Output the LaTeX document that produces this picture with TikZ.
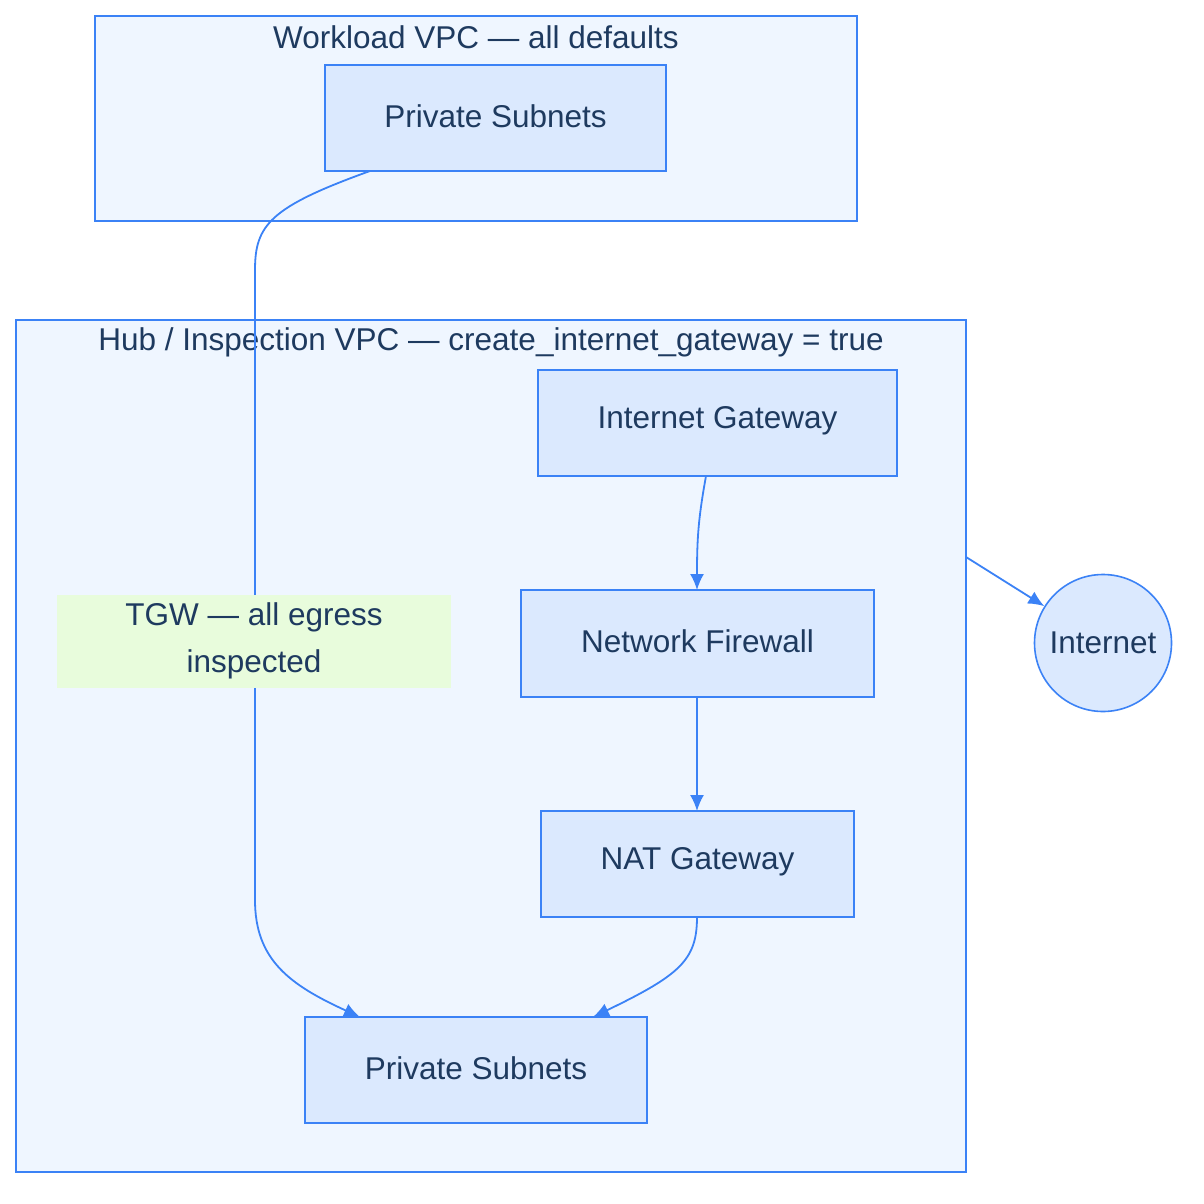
\documentclass[tikz,border=0pt]{standalone}
\usepackage{fontspec}
\setmainfont{Liberation Sans}
\usetikzlibrary{arrows.meta}
\definecolor{bd}{HTML}{3B82F6}
\definecolor{bx}{HTML}{DBE9FE}
\definecolor{cf}{HTML}{EFF6FF}
\definecolor{tx}{HTML}{1E3A5F}
\definecolor{lb}{HTML}{E8FCDC}
\tikzset{
 grp/.style={draw=bd,fill=cf,line width=1.6pt},
 bxs/.style={draw=bd,fill=bx,line width=1.6pt,text=tx,font=\fontsize{31.5}{36}\selectfont},
 ttl/.style={text=tx,font=\fontsize{31.5}{36}\selectfont},
 edge/.style={draw=bd,line width=1.8pt,-{Latex[length=16pt,width=14pt]}}
}
\begin{document}
\begin{tikzpicture}[x=1pt,y=-1pt]
\useasboundingbox (0,0) rectangle (1204,1204);
\fill[white] (0,0) rectangle (1204,1204);
\draw[grp] (95,16) rectangle (857,221);
\node[ttl] (t1) at (476,37) {Workload VPC — all defaults};
\draw[grp] (16,320) rectangle (966,1172);
\coordinate (hubr) at (966,557);
\node[ttl] (t2) at (491,342) {Hub / Inspection VPC — create\_internet\_gateway = true};
\path[bxs] (325,65) rectangle (666,171); \node[bxs,draw=none,fill=none] (ps1) at (495.5,116) {Private Subnets};
\path[bxs] (538,370) rectangle (897,476); \node[bxs,draw=none,fill=none] (igw) at (717.5,421) {Internet Gateway};
\path[bxs] (521,590) rectangle (874,697); \node[bxs,draw=none,fill=none] (nfw) at (697.5,641) {Network Firewall};
\path[bxs] (541,811) rectangle (854,917); \node[bxs,draw=none,fill=none] (nat) at (697.5,862) {NAT Gateway};
\path[bxs] (305,1017) rectangle (647,1123); \node[bxs,draw=none,fill=none] (ps2) at (476,1068) {Private Subnets};
\node[bxs,circle,minimum size=137pt,inner sep=0pt] (inet) at (1103,643) {Internet};
\coordinate (a1) at (370,171);
\coordinate (a2) at (360,1017);
\draw[edge] (a1) .. controls (270,207) and (255,225) .. (255,270) -- (255,900) .. controls (255,960) and (290,985) .. (a2);
\draw[edge] (706,476) .. controls (698,520) and (697,540) .. (697,590);
\draw[edge] (697,697) -- (697,811);
\draw[edge] (697,917) .. controls (697,960) and (680,975) .. (593,1017);
\draw[edge] (hubr) -- (inet);
\node[fill=lb,minimum width=394pt,minimum height=93pt,text=tx,align=center,font=\fontsize{31.5}{47}\selectfont] (tgw) at (254,641) {TGW — all egress\\inspected};
\end{tikzpicture}
\end{document}
